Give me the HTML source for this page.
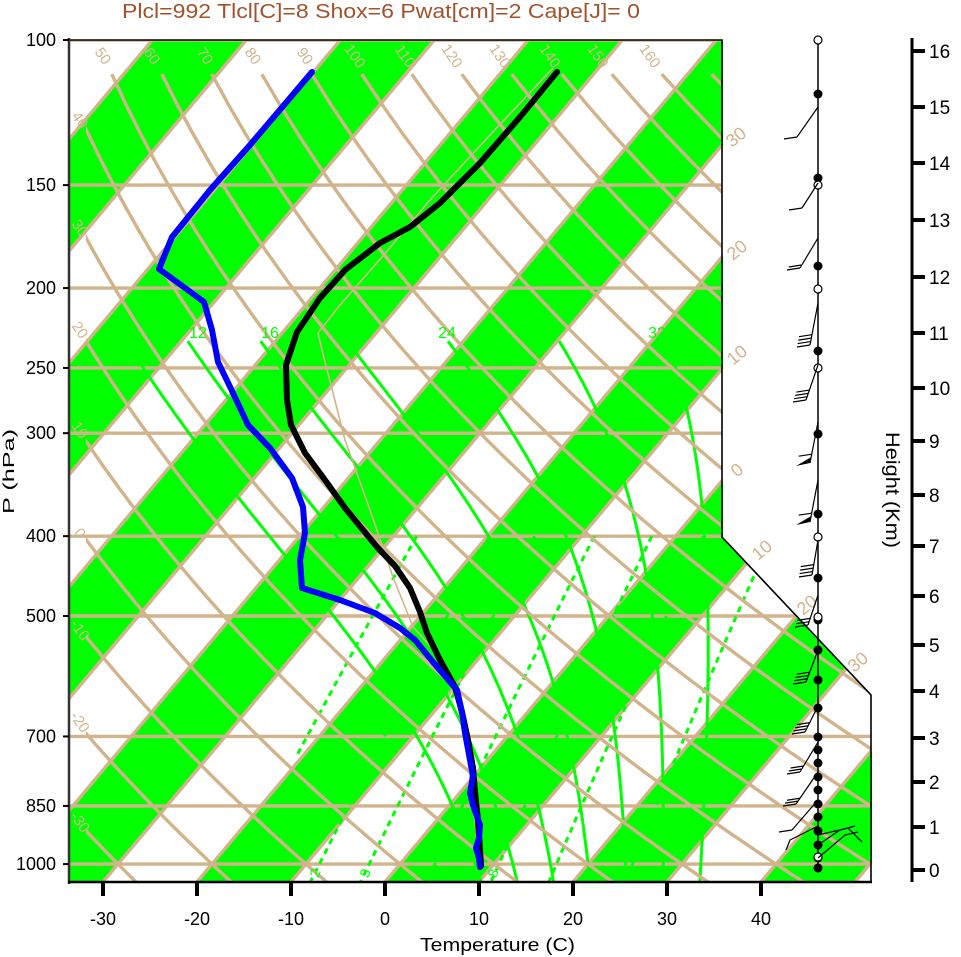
<!DOCTYPE html>
<html><head><meta charset="utf-8">
<style>
html,body{margin:0;padding:0;background:#fff;}
#wrap{position:relative;width:961px;height:957px;overflow:hidden;}
canvas,svg{position:absolute;left:0;top:0;}
text{font-family:"Liberation Sans",Arial,sans-serif;}
</style></head><body>
<div id="wrap">
<canvas id="cv" width="961" height="957"></canvas>
<svg id="sv" width="961" height="957" viewBox="0 0 961 957" xmlns="http://www.w3.org/2000/svg">
<defs>
<clipPath id="pc"><polygon points="69,40 722,40 722,537 871,695 871,882 69,882"/></clipPath>
<clipPath id="ac"><polygon points="86,73 722,73 722,537 871,695 871,882 86,882"/></clipPath>
</defs>
<g id="grid" clip-path="url(#pc)"></g>
<g id="adi" clip-path="url(#ac)"></g>
<g id="over"></g>
<text x="122" y="18" font-size="20" fill="#a0522d" textLength="518" lengthAdjust="spacingAndGlyphs">Plcl=992 Tlcl[C]=8 Shox=6 Pwat[cm]=2 Cape[J]= 0</text>
</svg>
</div>
<script>
(function(){
var NS="http://www.w3.org/2000/svg";
function Y(p){return 40+357.9*Math.log(p/100);}
function X(T,p){return 385+9.4*T+0.84*(882-Y(p));}
function el(parent,tag,attrs,txt){var e=document.createElementNS(NS,tag);for(var k in attrs)e.setAttribute(k,attrs[k]);if(txt!==undefined)e.textContent=txt;parent.appendChild(e);return e;}
function pl(parent,pts,attrs){attrs.points=pts.map(function(a){return a[0].toFixed(1)+","+a[1].toFixed(1);}).join(" ");attrs.fill="none";return el(parent,"polyline",attrs);}
var cv=document.getElementById("cv"),ctx=cv.getContext("2d");
var img=ctx.createImageData(961,957),d=img.data;
for(var y=40;y<=882;y++){
  var xmax=y<=537?722:(y<=695?722+(y-537)*149/158:871);
  for(var x=69;x<=xmax;x++){
    var T=(x-385-0.84*(882-y))/9.4;
    var s=Math.floor(T/10);
    var i=(y*961+x)*4;
    if(((s%2)+2)%2==0){d[i]=0;d[i+1]=255;d[i+2]=0;}else{d[i]=255;d[i+1]=255;d[i+2]=255;}
    d[i+3]=255;
  }
}
ctx.putImageData(img,0,0);
var g=document.getElementById("grid"),ga=document.getElementById("adi"),ov=document.getElementById("over");
var tan="#d2b48c";
for(var T=-120;T<=60;T+=10){pl(g,[[X(T,1060),Y(1060)],[X(T,100),Y(100)]],{stroke:tan,"stroke-width":3.4});}
[100,150,200,250,300,400,500,700,850,1000].forEach(function(p){pl(g,[[60,Y(p)],[880,Y(p)]],{stroke:tan,"stroke-width":3.4});});
for(var th=-50;th<=180;th+=10){var pts=[];for(var p=110;p<=1060;p+=10){var T=(th+273.15)*Math.pow(p/1000,0.286)-273.15;pts.push([X(T,p),Y(p)]);}pl(ga,pts,{stroke:tan,"stroke-width":3.4});}
function tdw(w,p){var e=w*p/(622+w);var l=Math.log(e/6.112);return 243.5*l/(17.67-l);}
[[1,740],[2,1060],[3,1060],[5,1060],[8,1060],[12,1060],[20,1060]].forEach(function(a){var w=a[0],pts=[];for(var p=400;p<=a[1];p+=10){pts.push([X(tdw(w,p),p),Y(p)]);}pl(g,pts,{stroke:"#00ff00","stroke-width":3,"stroke-dasharray":"6,5"});});
function dTdp(T,p){var Rd=287.04,cp=1005.7,Lv=2.501e6,eps=0.622;var Tc=T-273.15;var es=6.112*Math.exp(17.67*Tc/(Tc+243.5));var rs=eps*es/(p-es);return (Rd*T+Lv*rs)/(p*(cp+Lv*Lv*rs*eps/(Rd*T*T)));}
function moist(thw,pt,pb){var T=thw+273.15,p=1000,dp=-2;var up=[[p,T]];while(p>pt){var k1=dTdp(T,p),k2=dTdp(T+dp/2*k1,p+dp/2),k3=dTdp(T+dp/2*k2,p+dp/2),k4=dTdp(T+dp*k3,p+dp);T+=dp/6*(k1+2*k2+2*k3+k4);p+=dp;up.push([p,T]);}
 var dn=[];T=thw+273.15;p=1000;dp=2;while(p<pb){var k1=dTdp(T,p),k2=dTdp(T+dp/2*k1,p+dp/2),k3=dTdp(T+dp/2*k2,p+dp/2),k4=dTdp(T+dp*k3,p+dp);T+=dp/6*(k1+2*k2+2*k3+k4);p+=dp;dn.push([p,T]);}
 up.reverse();return up.concat(dn).map(function(a){return [X(a[1]-273.15,a[0]),Y(a[0])];});}
[8,12,16,20,24,28,32].forEach(function(t){pl(g,moist(t,232,1060),{stroke:"#00ff00","stroke-width":3});});
pl(g,[[480,866],[468,760],[455,690],[434,650],[413,627],[393,577],[370,510],[345,440],[322,350],[318,333],[340,305],[382,257],[430,200],[490,135],[553,68]],{stroke:tan,"stroke-width":1.6});
pl(ov,[[557,72],[520,117],[480,163],[440,203],[410,227],[380,243],[345,270],[320,298],[297,332],[286,365],[287,400],[291,425],[305,453],[325,480],[345,508],[377,547],[395,566],[410,588],[420,612],[427,633],[440,660],[455,687],[462,712],[468,740],[473,768],[475,792],[478,820],[480,850],[481,866]],{stroke:"#000","stroke-width":6,"stroke-linejoin":"round","stroke-linecap":"round"});
pl(ov,[[312,72],[290,98],[250,145],[210,190],[172,237],[159,269],[181,285],[204,302],[212,330],[218,362],[233,393],[248,425],[270,448],[292,478],[303,507],[305,533],[300,560],[302,588],[340,600],[375,613],[400,628],[415,640],[433,662],[457,690],[462,712],[465,733],[470,760],[473,776],[470,793],[473,805],[480,825],[479,838],[476,848],[479,858],[480,867]],{stroke:"#0000ff","stroke-width":6,"stroke-linejoin":"round","stroke-linecap":"round"});
el(ov,"polyline",{points:"69,40 722,40 722,537 871,695 871,882 69,882 69,40",fill:"none",stroke:"#000","stroke-width":1.6});
el(ov,"line",{x1:69,y1:38,x2:69,y2:884,stroke:"#333","stroke-width":2.5});
el(ov,"line",{x1:68,y1:882,x2:872,y2:882,stroke:"#000","stroke-width":2.5});
[100,150,200,250,300,400,500,700,850,1000].forEach(function(p){var y=Y(p);el(ov,"line",{x1:63,y1:y,x2:69,y2:y,stroke:"#000","stroke-width":2});el(ov,"text",{x:56,y:y+6,"font-size":18,"text-anchor":"end",fill:"#000"},String(p));});
el(ov,"text",{x:14,y:514,"font-size":16,textLength:85,lengthAdjust:"spacingAndGlyphs",transform:"rotate(-90 14 514)"},"P (hPa)");
for(var t=-30;t<=40;t+=10){var x=385+9.4*t;el(ov,"line",{x1:x,y1:882,x2:x,y2:896,stroke:"#000","stroke-width":4});el(ov,"text",{x:x,y:925,"font-size":18,"text-anchor":"middle"},String(t));}
el(ov,"text",{x:420,y:951,"font-size":18,textLength:155,lengthAdjust:"spacingAndGlyphs"},"Temperature (C)");
var tl=[[50,103],[60,152],[70,205],[80,253],[90,305],[100,355],[110,405],[120,452],[130,500],[140,550],[150,598],[160,650]];
tl.forEach(function(a){el(ov,"text",{x:a[1],y:61,"font-size":15,fill:tan,"text-anchor":"middle",transform:"rotate(55 "+a[1]+" 56)"},String(a[0]));});
var ll=[[40,120],[30,228],[20,330],[10,430],[0,533],[-10,630],[-20,722],[-30,822]];
ll.forEach(function(a){el(ov,"text",{x:80,y:a[1]+5,"font-size":15,fill:tan,"text-anchor":"middle",transform:"rotate(55 80 "+a[1]+")"},String(a[0]));});
[[30,736,137],[20,737,250],[10,737,355],[0,737,470],[10,762,550],[20,807,605],[30,858,662]].forEach(function(a){el(ov,"text",{x:a[1],y:a[2]+6,"font-size":18,fill:tan,"text-anchor":"middle",transform:"rotate(-40 "+a[1]+" "+a[2]+")"},String(a[0]));});
[[12,198],[16,270],[24,447],[32,657]].forEach(function(a){el(ov,"text",{x:a[1],y:338,"font-size":16,fill:"#00ff00","text-anchor":"middle"},String(a[0]));});
[[2,315],[3,365],[8,493]].forEach(function(a){el(ov,"text",{x:a[1],y:878,"font-size":14,fill:"#00ff00","text-anchor":"middle",transform:"rotate(-70 "+a[1]+" 873)"},String(a[0]));});
el(ov,"line",{x1:912,y1:38,x2:912,y2:882,stroke:"#000","stroke-width":3});
var hy=[870,827,782,738,691,645,596,546,495,441,388,333,277,220,163,107,51];
hy.forEach(function(y,i){el(ov,"line",{x1:912,y1:y,x2:925,y2:y,stroke:"#000","stroke-width":4});el(ov,"text",{x:929,y:y+7,"font-size":19},String(i));});
el(ov,"text",{x:886,y:432,"font-size":19,textLength:116,lengthAdjust:"spacingAndGlyphs",transform:"rotate(90 886 432)"},"Height (Km)");
el(ov,"line",{x1:818,y1:40,x2:818,y2:870,stroke:"#000","stroke-width":1.5});
[94,178,266,351,434,514,578,620,650,680,708,737,750,763,777,790,804,817,831,845,858,868].forEach(function(y){el(ov,"circle",{cx:818,cy:y,r:4.5,fill:"#000"});});
[40,185,289,368,537,617,857].forEach(function(y){el(ov,"circle",{cx:818,cy:y,r:4,fill:"#fff",stroke:"#000","stroke-width":1.2});});
var barbs=[[107,797,137,1],[183,802,208,1],[238,800,268,2],[303,810,345,4],[365,806,400,4],[422,810,463,-1],[480,810,522,-1],[540,812,575,4],[595,808,625,3],[650,806,682,4],[706,805,732,4],[742,800,772,3],[772,796,804,3],[800,792,830,1]];
barbs.forEach(function(b){var y0=b[0],ex=b[1],ey=b[2],n=b[3];el(ov,"line",{x1:818,y1:y0,x2:ex,y2:ey,stroke:"#000","stroke-width":1.2});
 var L=Math.hypot(ex-818,ey-y0),ux=(818-ex)/L,uy=(y0-ey)/L;
 if(n<0){el(ov,"polygon",{points:ex+","+ey+" "+(ex-14)+","+(ey+3)+" "+(ex+ux*6)+","+(ey+uy*6),fill:"#000"});el(ov,"line",{x1:ex+ux*9,y1:ey+uy*9,x2:ex+ux*9-13,y2:ey+uy*9+2,stroke:"#000","stroke-width":1.2});}
 else for(var i=0;i<n;i++){var px=ex+ux*i*3.5,py=ey+uy*i*3.5;el(ov,"line",{x1:px,y1:py,x2:px-13,y2:py+2,stroke:"#000","stroke-width":1.2});}});
pl(ov,[[818,845],[840,830],[855,826]],{stroke:"#000","stroke-width":1.2});
pl(ov,[[818,858],[845,835],[858,832]],{stroke:"#000","stroke-width":1.2});
pl(ov,[[818,835],[848,828],[862,842]],{stroke:"#000","stroke-width":1.2});
pl(ov,[[818,826],[790,840],[786,850]],{stroke:"#000","stroke-width":1.2});
})();
</script>
</body></html>
